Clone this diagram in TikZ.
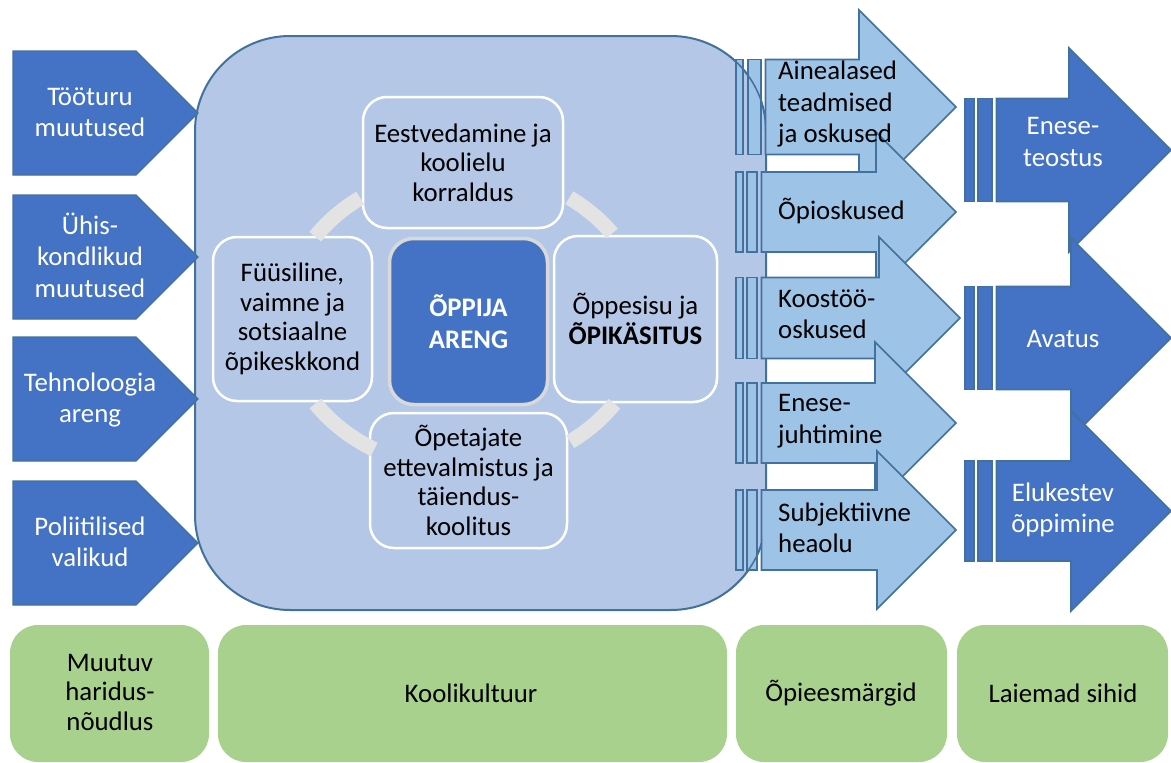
\documentclass[tikz,border=0pt]{standalone}
\usepackage{fontspec}
\setmainfont{Carlito}
\definecolor{dkblue}{HTML}{4472C4}
\definecolor{ltblue}{HTML}{9DC3E6}
\definecolor{bgblue}{HTML}{B4C7E7}
\definecolor{edgeblue}{HTML}{41719C}
\definecolor{greenbg}{HTML}{A9D18E}
\definecolor{arcgrey}{HTML}{E3E3E3}
\definecolor{ctrborder}{HTML}{D9D9D9}
% #1 cy, #2 body half, #3 head half, #4 tip x, #5/#6 stripe 1, #7/#8 stripe 2, #9 style
\newcommand{\StripedArrow}[9]{%
  \filldraw[#9] (#5,#1-#2) rectangle (#6,#1+#2);
  \filldraw[#9] (#7,#1-#2) rectangle (#8,#1+#2);
  \filldraw[#9] (#8+4.5,#1-#2) -- (#4-#3,#1-#2) -- (#4-#3,#1-#3) -- (#4,#1)
     -- (#4-#3,#1+#3) -- (#4-#3,#1+#2) -- (#8+4.5,#1+#2) -- cycle;
}
\newcommand{\PentArrow}[1]{%
  \filldraw[leftarr] (13,#1-62) -- (136,#1-62) -- (198,#1) -- (136,#1+62) -- (13,#1+62) -- cycle;
}
% cycle arc segment on the ellipse around the centre node: #1 start, #2 end angle
\newcommand{\CycArc}[2]{%
  \draw[cyc] ([shift={(#1:180 and 150)}]465,320) arc[start angle=#1, end angle=#2, x radius=180, y radius=150];
}
\begin{document}
\begin{tikzpicture}[x=1pt,y=-1pt,
  every node/.style={font=\fontsize{26.8}{31.5}\selectfont, inner sep=0pt},
  leftarr/.style={fill=dkblue, draw=edgeblue, line width=1.2pt},
  midarr/.style={fill=ltblue, draw=edgeblue, line width=1.6pt},
  dkarr/.style={fill=dkblue, draw=edgeblue, line width=1.6pt},
  bigrect/.style={fill=bgblue, draw=edgeblue, line width=2pt, rounded corners=95pt},
  inbox/.style={draw=white, line width=2.5pt, fill=bgblue, rounded corners=24pt,
    align=center, text=black, font=\fontsize{26.8}{29.5}\selectfont},
  ctrbox/.style={draw=ctrborder, line width=3.5pt, fill=dkblue, rounded corners=24pt,
    align=center, text=white, font=\fontsize{26.8}{32}\selectfont\bfseries},
  greenbox/.style={fill=greenbg, rounded corners=28pt},
  wtxt/.style={text=white, align=center},
  btxt/.style={text=black, align=center, font=\fontsize{26.8}{29.5}\selectfont},
  ltxt/.style={text=black, align=left, anchor=west},
  cyc/.style={draw=arcgrey, line width=15pt}
]
\useasboundingbox (0,0) rectangle (1171,763);

% big rounded rectangle (school culture)
\filldraw[bigrect] (195,36) rectangle (766,610);

% left pentagon arrows
\PentArrow{113}
\PentArrow{257}
\PentArrow{399}
\PentArrow{543}
\node[wtxt] (ttm) at (90,112) {Tööturu\\muutused};
\node[wtxt] (uhm) at (90,255) {Ühis-\\kondlikud\\muutused};
\node[wtxt] (tha) at (90,400) {Tehnoloogia\\areng};
\node[wtxt] (pov) at (90,542) {Poliitilised\\valikud};

% inner boxes
\node[inbox, minimum width=200pt, minimum height=131pt] (lead) at (463,162.5) {Eestvedamine ja\\koolielu\\korraldus};
\node[inbox, minimum width=159pt, minimum height=164pt] (env) at (292.5,319) {Füüsiline,\\vaimne ja\\sotsiaalne\\õpikeskkond};
\node[inbox, minimum width=163pt, minimum height=166pt] (cont) at (635.5,319) {Õppesisu ja\\\textbf{ÕPIKÄSITUS}};
\node[inbox, minimum width=197pt, minimum height=135pt] (teach) at (468.5,480.5) {Õpetajate\\ettevalmistus ja\\täiendus-\\koolitus};
\node[ctrbox, minimum width=158pt, minimum height=166pt] (learner) at (468.5,321.5) {ÕPPIJA\\ARENG};

% cycle arcs between the boxes
\CycArc{213.7}{234.4}
\CycArc{305.4}{324.8}
\CycArc{33.9}{54.2}
\CycArc{120.3}{146.2}

% middle striped arrows
\StripedArrow{107}{47.5}{97}{956}{736}{743}{748}{761}{midarr}
\StripedArrow{212}{40}{80}{956}{736}{743}{747}{757}{midarr}
\StripedArrow{318}{40.5}{81}{960}{736}{743}{747}{757}{midarr}
\StripedArrow{423}{40}{81}{956}{736}{743}{747}{757}{midarr}
\StripedArrow{530}{40}{79}{956}{736}{743}{747}{757}{midarr}
% rectangle outline seen through the stripes
\begin{scope}
  \clip (729,0) rectangle (762,763);
  \draw[draw=edgeblue, line width=1.5pt, rounded corners=95pt] (195,36) rectangle (766,610);
\end{scope}
\node[ltxt] (ain) at (778,104) {Ainealased\\teadmised\\ja oskused};
\node[ltxt] (opi) at (778,211) {Õpioskused};
\node[ltxt] (koo) at (778,314) {Koostöö-\\oskused};
\node[ltxt] (ejh) at (778,421) {Enese-\\juhtimine};
\node[ltxt] (sub) at (778,528) {Subjektiivne\\heaolu};

% right dark striped arrows
\StripedArrow{150}{51.5}{102}{1171}{965}{974}{978}{992}{dkarr}
\StripedArrow{338}{51.5}{100}{1171}{965}{974}{978}{992}{dkarr}
\StripedArrow{511}{50}{100}{1171}{965}{974}{978}{992}{dkarr}
\node[wtxt] (ent) at (1063,142) {Enese-\\teostus};
\node[wtxt] (ava) at (1063,339) {Avatus};
\node[wtxt] (elu) at (1063,510) {Elukestev\\õppimine};

% bottom green boxes
\fill[greenbox] (10,625) rectangle (209,762);
\fill[greenbox] (218,625) rectangle (727,762);
\fill[greenbox] (736,625) rectangle (947,762);
\fill[greenbox] (957,625) rectangle (1168,762);
\node[btxt] (muu) at (110,692) {Muutuv\\haridus-\\nõudlus};
\node[btxt] (kkt) at (471,693) {Koolikultuur};
\node[btxt] (oem) at (841,693) {Õpieesmärgid};
\node[btxt] (lsi) at (1063,693) {Laiemad sihid};
\end{tikzpicture}
\end{document}
